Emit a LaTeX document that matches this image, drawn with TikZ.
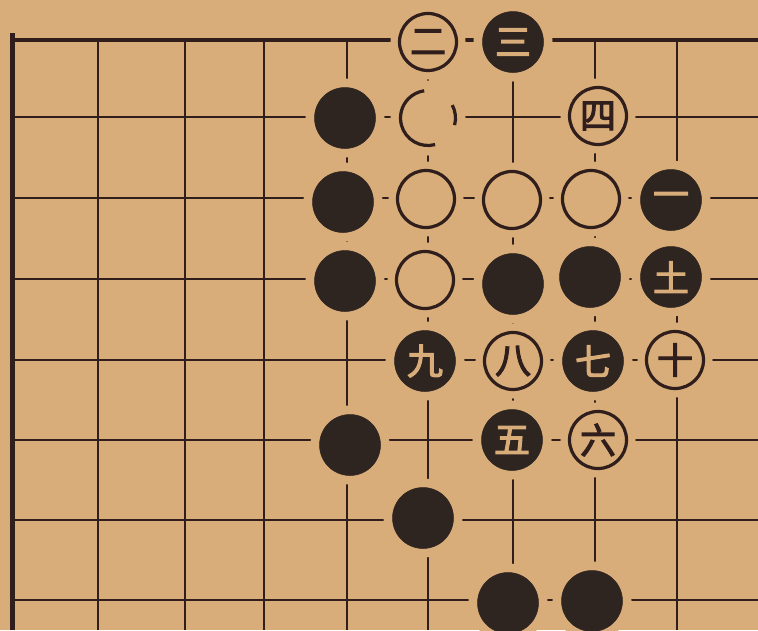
\documentclass[tikz,border=0pt]{standalone}
\usepackage{fontspec}
\newfontfamily\cjk[AutoFakeBold=3]{Noto Sans CJK SC}
\definecolor{paper}{RGB}{216,173,121}
\definecolor{ink}{RGB}{48,30,28}
\definecolor{stoneblk}{RGB}{46,36,32}
\begin{document}
\begin{tikzpicture}[x=1pt,y=-1pt,
  gridline/.style={ink,line width=2.8pt},
  border/.style={ink,line width=5pt},
  stonebase/.style={circle,inner sep=0pt,font=\cjk\bfseries\fontsize{36}{36}\selectfont,
    preaction={draw=paper,line width=18pt}},
  wstone/.style={stonebase,minimum size=57pt,fill=paper,draw=ink,line width=3.2pt,text=ink},
  bstone/.style={stonebase,minimum size=61pt,fill=stoneblk,draw=stoneblk,line width=0.5pt,text=paper},
  openstone/.style={circle,inner sep=0pt,minimum size=57pt,fill=paper,preaction={draw=paper,line width=18pt}}]
\path[use as bounding box,fill=paper] (0,0) rectangle (758,630);
% grid
\foreach \x in {98,185,264,347,428,513,595,677}
  \draw[gridline] (\x,40) -- (\x,630);
\foreach \y in {117,198,279,360,440,520,600}
  \draw[gridline] (12,\y) -- (758,\y);
\draw[border,line width=4pt] (10,40) -- (758,40);
\draw[border] (12,33) -- (12,630);
% stones
\node[wstone] (s2) at (428,42) {二};
\node[bstone] (s3) at (513,42) {三};
\node[bstone] (b1) at (345,118) {};
\node[openstone] (o1) at (428,118) {};
\draw[ink,line width=3.2pt] (o1.center) ++(75:27.5) arc[start angle=75,end angle=262,radius=27.5];
\draw[ink,line width=3.2pt] (o1.center) ++(-28:27.5) arc[start angle=-28,end angle=15,radius=27.5];
\node[wstone] (s4) at (598,116) {四};
\node[bstone] (b2) at (343,202) {};
\node[wstone] (w2) at (426,199) {};
\node[wstone] (w3) at (512,200) {};
\node[wstone] (w4) at (591,199) {};
\node[bstone] (s1) at (671,200) {一};
\node[bstone] (b3) at (345,281) {};
\node[wstone] (w5) at (425,280) {};
\node[bstone] (b4) at (513,284) {};
\node[bstone] (b5) at (590,277) {};
\node[bstone] (s11) at (671,277) {土};
\node[bstone] (s9) at (425,361) {九};
\node[wstone] (s8) at (513,361) {八};
\node[bstone] (s7) at (593,361) {七};
\node[wstone] (s10) at (675,360) {十};
\node[bstone] (b6) at (350,445) {};
\node[bstone] (s5) at (512,440) {五};
\node[wstone] (s6) at (598,440) {六};
\node[bstone] (b7) at (423,518) {};
\node[bstone] (b8) at (508,603) {};
\node[bstone] (b9) at (592,601) {};
\end{tikzpicture}
\end{document}
